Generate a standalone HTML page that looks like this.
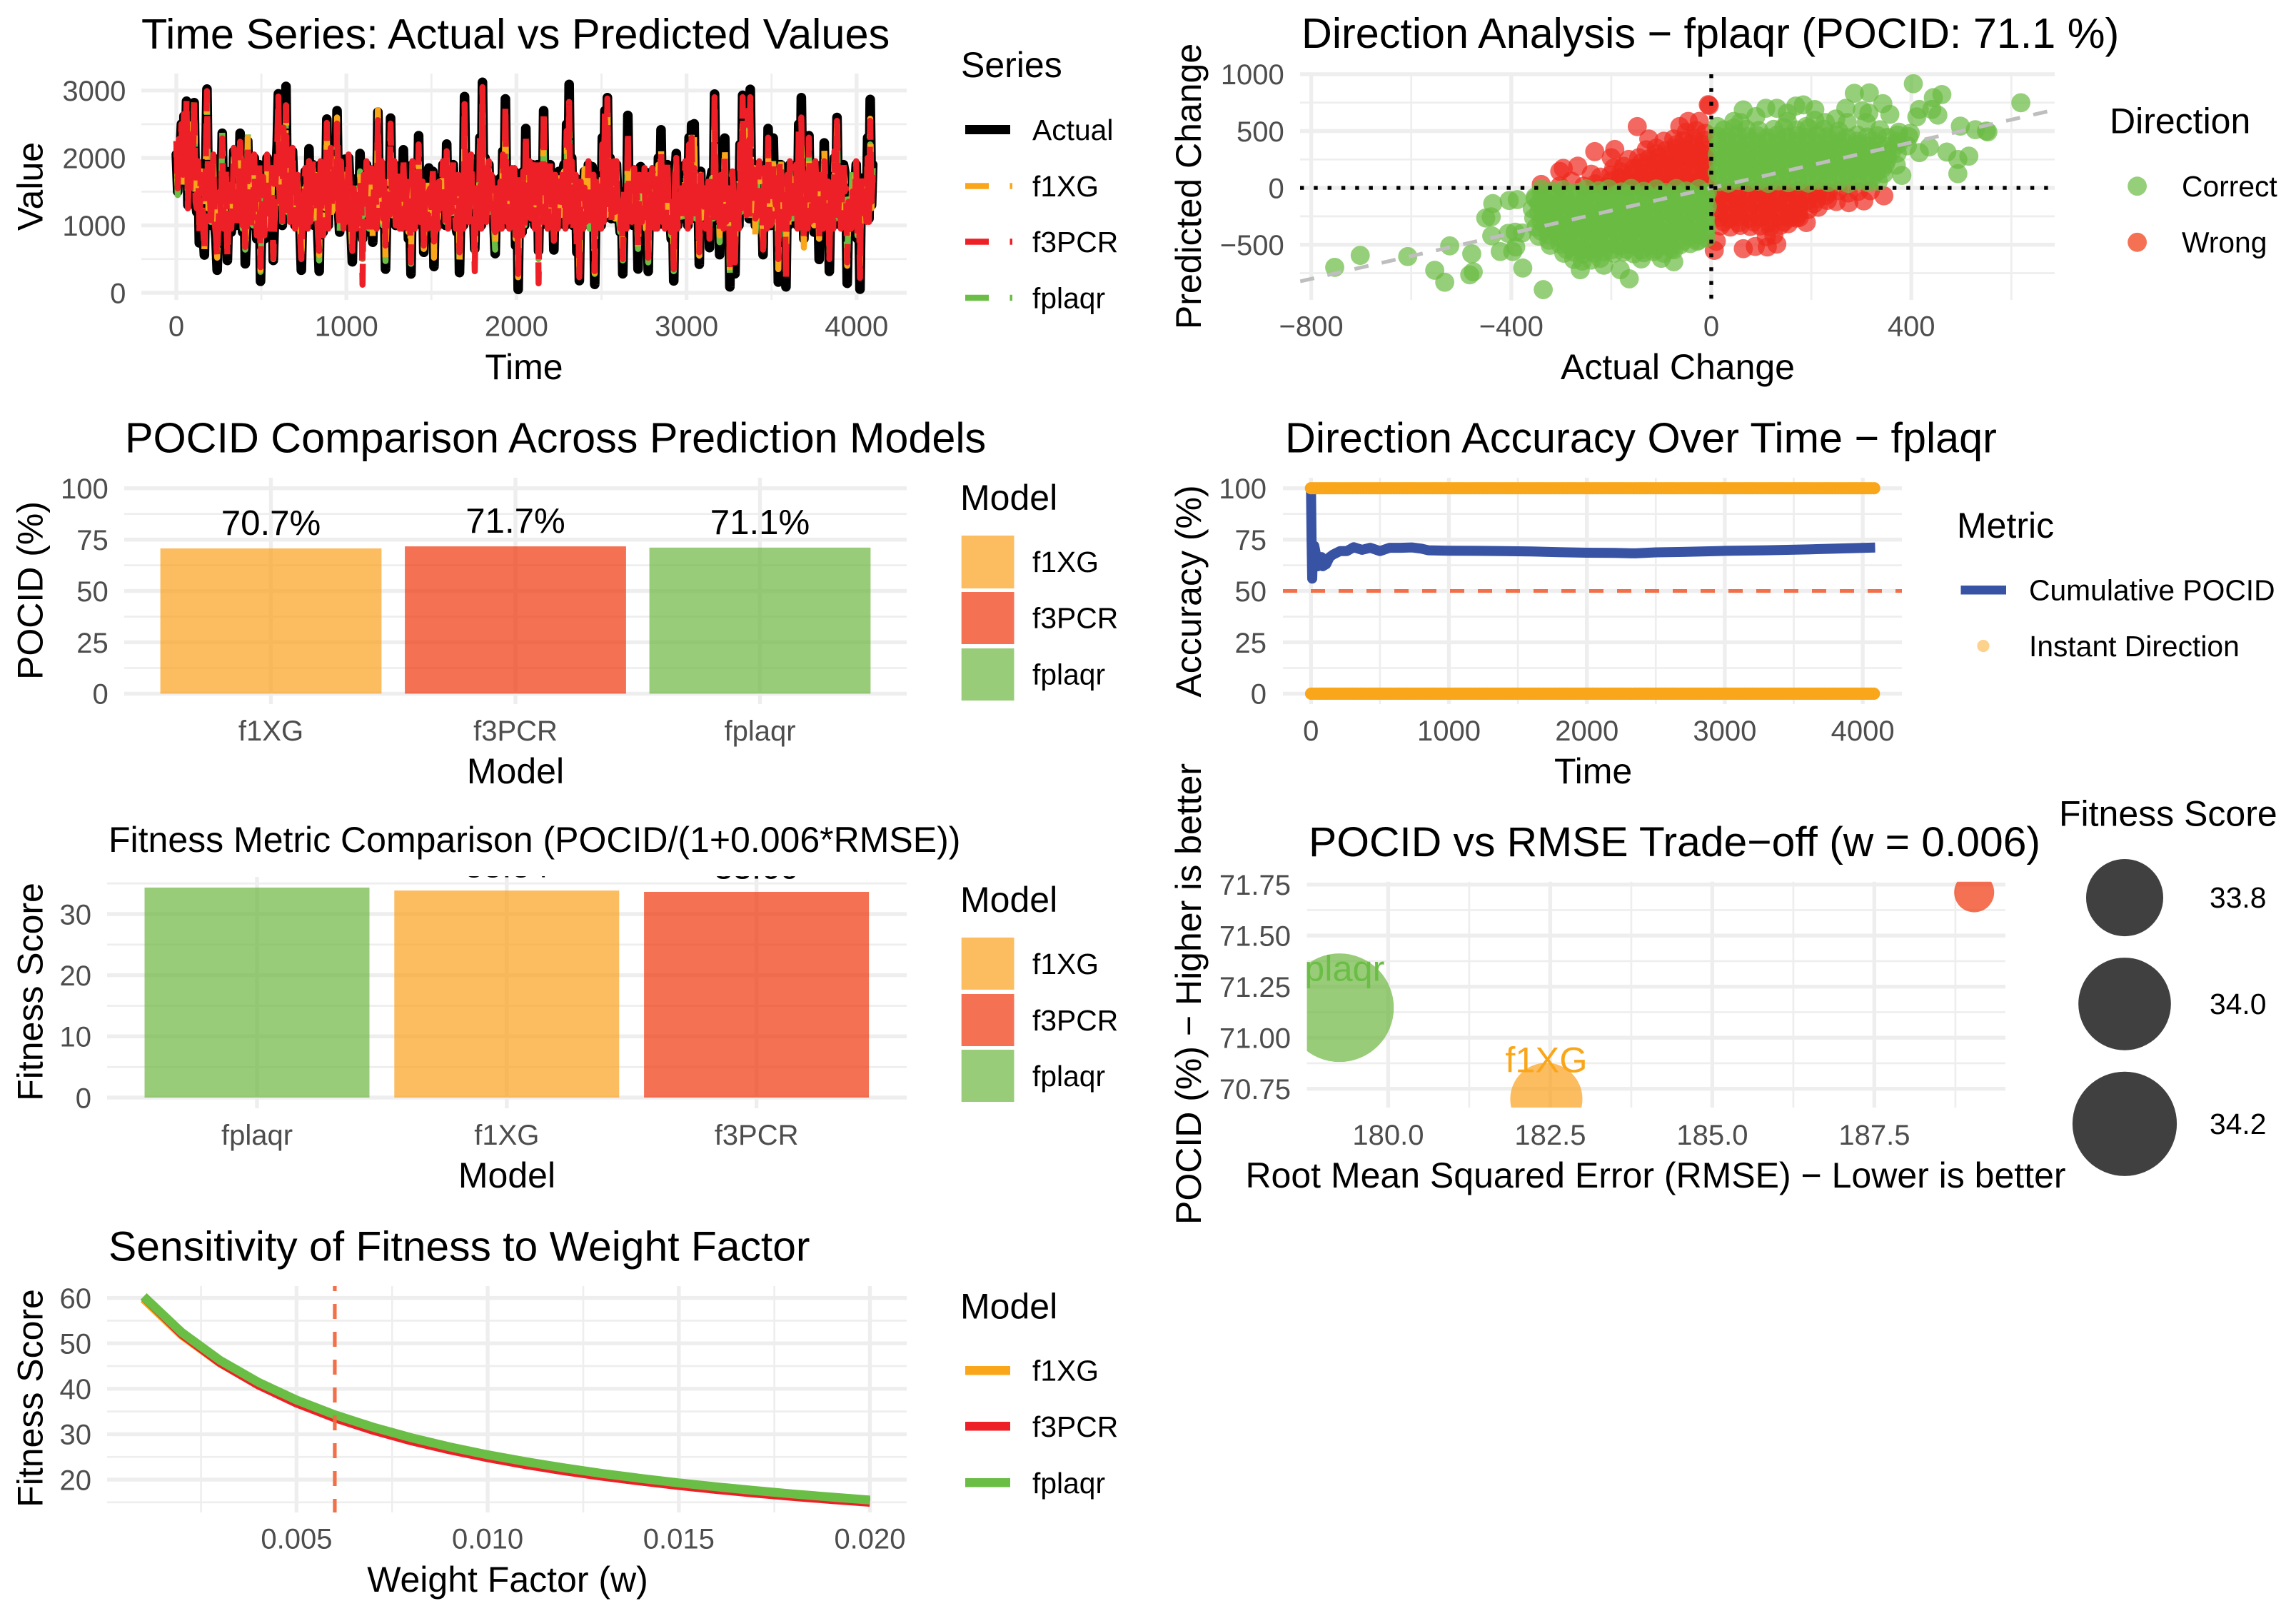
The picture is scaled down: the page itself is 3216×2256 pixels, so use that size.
<!DOCTYPE html>
<html lang="en">
<head>
<meta charset="utf-8">
<title>Forecast model comparison dashboard</title>
<style>
html,body{margin:0;padding:0;background:#fff;}
svg{display:block;font-family:"Liberation Sans",Arial,sans-serif;}
.title{font-size:59.3px;fill:#000;}
.atitle{font-size:50px;fill:#000;}
.ltitle{font-size:50px;fill:#000;}
.ltext{font-size:40.8px;fill:#000;}
.tick{font-size:40px;fill:#4D4D4D;}
</style>
</head>
<body>
<svg id="dashboard" xmlns="http://www.w3.org/2000/svg" width="3216" height="2256" viewBox="0 0 3216 2256">
<defs>
<clipPath id="clip-p1"><rect x="198" y="103" width="1072" height="317"/></clipPath>
<clipPath id="clip-p2"><rect x="1821" y="103" width="1057" height="317"/></clipPath>
<clipPath id="clip-p4"><rect x="1797" y="669" width="867" height="317"/></clipPath>
<clipPath id="clip-p5"><rect x="150" y="1227" width="1120" height="325"/></clipPath>
<clipPath id="clip-p6"><rect x="1830.6" y="1234.8" width="978.4" height="316.2"/></clipPath>
<clipPath id="clip-p7"><rect x="150" y="1801" width="1120" height="317"/></clipPath>
</defs>
<rect x="0" y="0" width="3216" height="2256" fill="#fff"/>

<!-- Panel 1: time series -->
<g id="p1">
<text class="title" style="font-size:59.5px" x="198" y="68">Time Series: Actual vs Predicted Values</text>
<text class="atitle" x="734" y="531" text-anchor="middle">Time</text>
<text class="atitle" x="59.5" y="261" text-anchor="middle" transform="rotate(-90 59.5 261)">Value</text>
<g id="p1-grid"></g>
<g id="p1-ticks"></g>
<g id="p1-marks" clip-path="url(#clip-p1)"></g>
<g>
<text class="ltitle" x="1346" y="108">Series</text>
<line x1="1352" x2="1415" y1="181.5" y2="181.5" stroke="#000" stroke-width="13"/>
<text class="ltext" x="1446" y="196">Actual</text>
<line x1="1352" x2="1418" y1="260.5" y2="260.5" stroke="#FAA61A" stroke-width="8.5" stroke-dasharray="33 29.5"/>
<text class="ltext" x="1446" y="275">f1XG</text>
<line x1="1352" x2="1418" y1="338.5" y2="338.5" stroke="#EE2027" stroke-width="8.5" stroke-dasharray="33 29.5"/>
<text class="ltext" x="1446" y="353">f3PCR</text>
<line x1="1352" x2="1418" y1="417" y2="417" stroke="#6ABD45" stroke-width="8.5" stroke-dasharray="33 29.5"/>
<text class="ltext" x="1446" y="431.5">fplaqr</text>
</g>
</g>

<!-- Panel 2: direction scatter -->
<g id="p2">
<text class="title" x="1823" y="67">Direction Analysis − fplaqr (POCID: 71.1 %)</text>
<text class="atitle" x="2350" y="531" text-anchor="middle">Actual Change</text>
<text class="atitle" x="1682" y="261" text-anchor="middle" transform="rotate(-90 1682 261)">Predicted Change</text>
<g id="p2-grid"></g>
<g id="p2-ticks"></g>
<g id="p2-marks" clip-path="url(#clip-p2)"></g>
<g>
<text class="ltitle" x="2955" y="186.4">Direction</text>
<circle cx="2993.6" cy="260.7" r="13.4" fill="#6ABA42" fill-opacity=".7"/>
<text class="ltext" x="3056" y="275">Correct</text>
<circle cx="2993.6" cy="339.3" r="13.4" fill="#F0340A" fill-opacity=".7"/>
<text class="ltext" x="3056" y="353.5">Wrong</text>
</g>
</g>

<!-- Panel 3: POCID bars -->
<g id="p3">
<text class="title" x="175" y="633.6">POCID Comparison Across Prediction Models</text>
<text class="atitle" x="722" y="1096.8" text-anchor="middle">Model</text>
<text class="atitle" x="59.5" y="827" text-anchor="middle" transform="rotate(-90 59.5 827)">POCID (%)</text>
<g id="p3-grid"></g>
<g id="p3-ticks"></g>
<g id="p3-marks"></g>
<g>
<text class="ltitle" x="1345" y="714">Model</text>
<rect x="1346.7" y="750" width="73.8" height="74" fill="#FBA01C" fill-opacity=".7"/>
<text class="ltext" x="1446" y="801">f1XG</text>
<rect x="1346.7" y="829" width="73.8" height="73" fill="#F0340A" fill-opacity=".7"/>
<text class="ltext" x="1446" y="879.5">f3PCR</text>
<rect x="1346.7" y="908" width="73.8" height="73" fill="#6CB63E" fill-opacity=".7"/>
<text class="ltext" x="1446" y="958.5">fplaqr</text>
</g>
</g>

<!-- Panel 4: accuracy -->
<g id="p4">
<text class="title" x="1800" y="633.6">Direction Accuracy Over Time − fplaqr</text>
<text class="atitle" x="2231.6" y="1096.8" text-anchor="middle">Time</text>
<text class="atitle" x="1682" y="828" text-anchor="middle" transform="rotate(-90 1682 828)">Accuracy (%)</text>
<g id="p4-grid"></g>
<g id="p4-ticks"></g>
<g id="p4-marks" clip-path="url(#clip-p4)"></g>
<g>
<text class="ltitle" x="2741" y="752.9">Metric</text>
<rect x="2746.5" y="820" width="63.5" height="12.5" fill="#3953A4"/>
<text class="ltext" x="2842" y="840.5">Cumulative POCID</text>
<circle cx="2778" cy="904.6" r="8.6" fill="#FAA61A" fill-opacity=".5"/>
<text class="ltext" x="2842" y="919">Instant Direction</text>
</g>
</g>

<!-- Panel 5: fitness bars -->
<g id="p5">
<text x="152" y="1193" font-size="50">Fitness Metric Comparison (POCID/(1+0.006*RMSE))</text>
<text class="atitle" x="710" y="1662.9" text-anchor="middle">Model</text>
<text class="atitle" x="59.5" y="1389" text-anchor="middle" transform="rotate(-90 59.5 1389)">Fitness Score</text>
<g id="p5-grid"></g>
<g id="p5-ticks"></g>
<g id="p5-marks" clip-path="url(#clip-p5)"></g>
<g>
<text class="ltitle" x="1345" y="1277">Model</text>
<rect x="1346.7" y="1312.9" width="73.8" height="73" fill="#FBA01C" fill-opacity=".7"/>
<text class="ltext" x="1446" y="1364">f1XG</text>
<rect x="1346.7" y="1392" width="73.8" height="73" fill="#F0340A" fill-opacity=".7"/>
<text class="ltext" x="1446" y="1443">f3PCR</text>
<rect x="1346.7" y="1470" width="73.8" height="73" fill="#6CB63E" fill-opacity=".7"/>
<text class="ltext" x="1446" y="1521">fplaqr</text>
</g>
</g>

<!-- Panel 6: trade-off -->
<g id="p6">
<text class="title" style="font-size:58.8px" x="1833" y="1198.8">POCID vs RMSE Trade−off (w = 0.006)</text>
<text class="atitle" x="2319" y="1662.8" text-anchor="middle">Root Mean Squared Error (RMSE) − Lower is better</text>
<text class="atitle" x="1682" y="1392" text-anchor="middle" transform="rotate(-90 1682 1392)">POCID (%) − Higher is better</text>
<g id="p6-grid"></g>
<g id="p6-ticks"></g>
<g id="p6-marks" clip-path="url(#clip-p6)"></g>
<g id="p6-legend">
<text class="ltitle" x="2884" y="1156.3">Fitness Score</text>
</g>
</g>

<!-- Panel 7: sensitivity -->
<g id="p7">
<text class="title" style="font-size:58.8px" x="152" y="1765.6">Sensitivity of Fitness to Weight Factor</text>
<text class="atitle" x="711" y="2229" text-anchor="middle">Weight Factor (w)</text>
<text class="atitle" x="59.5" y="1958" text-anchor="middle" transform="rotate(-90 59.5 1958)">Fitness Score</text>
<g id="p7-grid"></g>
<g id="p7-ticks"></g>
<g id="p7-marks" clip-path="url(#clip-p7)"></g>
<g>
<text class="ltitle" x="1345" y="1846.4">Model</text>
<rect x="1352" y="1913" width="63" height="12.5" fill="#FAA61A"/>
<text class="ltext" x="1446" y="1933.5">f1XG</text>
<rect x="1352" y="1991" width="63" height="12.5" fill="#EE2027"/>
<text class="ltext" x="1446" y="2012">f3PCR</text>
<rect x="1352" y="2070" width="63" height="12.5" fill="#6ABD45"/>
<text class="ltext" x="1446" y="2091">fplaqr</text>
</g>
</g>
</svg>

<script>
/* ---------- Time series data: peaks and troughs ---------- */
const tsTime = [
0,15,30,45,60,75,90,105,120,135,150,165,180,195,210,225,240,255,270,285,
300,315,330,345,360,375,390,405,420,435,450,465,480,495,510,525,540,555,570,585,
600,615,630,645,660,675,690,705,720,735,750,765,780,795,810,825,840,855,870,885,
900,915,930,945,960,975,990,1005,1020,1035,1050,1065,1080,1095,1110,1125,1140,1155,1170,1185,
1200,1215,1230,1245,1260,1275,1290,1305,1320,1335,1350,1365,1380,1395,1410,1425,1440,1455,1470,1485,
1500,1515,1530,1545,1560,1575,1590,1605,1620,1635,1650,1665,1680,1695,1710,1725,1740,1755,1770,1785,
1800,1815,1830,1845,1860,1875,1890,1905,1920,1935,1950,1965,1980,1995,2010,2025,2040,2055,2070,2085,
2100,2115,2130,2145,2160,2175,2190,2205,2220,2235,2250,2265,2280,2295,2310,2325,2340,2355,2370,2385,
2400,2415,2430,2445,2460,2475,2490,2505,2520,2535,2550,2565,2580,2595,2610,2625,2640,2655,2670,2685,
2700,2715,2730,2745,2760,2775,2790,2805,2820,2835,2850,2865,2880,2895,2910,2925,2940,2955,2970,2985,
3000,3015,3030,3045,3060,3075,3090,3105,3120,3135,3150,3165,3180,3195,3210,3225,3240,3255,3270,3285,
3300,3315,3330,3345,3360,3375,3390,3405,3420,3435,3450,3465,3480,3495,3510,3525,3540,3555,3570,3585,
3600,3615,3630,3645,3660,3675,3690,3705,3720,3735,3750,3765,3780,3795,3810,3825,3840,3855,3870,3885,
3900,3915,3930,3945,3960,3975,3990,4005,4020,4035,4050,4065,4080,4095];
const tsActual = [
2050,1980,2500,2620,2840,1980,2450,2820,1200,740,1900,560,3020,1900,1400,1050,335,1500,2365,1100,
480,1700,1200,1950,1400,2365,900,430,2250,1700,1000,1500,800,170,1765,1100,1600,900,480,1700,
2950,2000,2500,3060,1870,1750,1600,1050,1300,335,1200,1700,2135,1300,1000,1450,320,1200,1800,2575,
1700,1270,2000,2700,900,1600,1980,1300,1600,460,1300,1700,2065,800,1400,1620,1100,750,1800,2680,
1500,1000,350,1500,2590,1400,1000,1500,1700,2120,1200,800,280,1300,1800,2330,1300,600,1500,1850,
1100,390,1200,1700,1300,1800,2205,1400,1100,1500,900,300,1500,2910,1800,1300,1600,650,1500,2300,
3120,2000,1600,1200,1500,580,1200,1700,2100,2875,1700,1300,1000,700,50,1200,1800,2435,1500,1200,
1600,1000,620,1900,2700,1700,1500,1200,635,1400,1800,1300,1900,2500,3090,2000,1300,600,180,1200,
1800,1200,1000,1870,125,1300,1700,2300,2700,2894,2000,1700,1100,1400,900,282,1500,2630,1500,1000,
1400,353,1870,1200,900,318,1200,1300,1700,2000,2417,1700,1200,1400,800,176,2065,1500,1700,1250,
1800,2300,2488,2505,1400,423,1400,1600,1100,670,1800,2947,1700,565,1400,2294,1400,88,1500,282,
1500,2200,2929,2000,2700,3017,1600,1000,1700,1100,565,1600,2435,1000,2294,1300,159,1900,1100,88,
1000,1500,1300,1900,2500,2894,800,1600,2330,1200,900,1500,494,1400,2223,1400,318,1200,2000,2600,
1900,1500,1800,141,1300,1700,1500,800,53,1200,1500,2300,2866,1900];
const tsF1XG = [
2180,2100,2400,2600,2780,2120,2500,2850,1300,1000,1800,620,2950,1850,1500,1100,520,1400,2200,1150,
530,1500,1300,1850,1500,2260,950,700,2300,1650,1050,1300,900,340,1700,1150,1680,1000,520,1600,
2750,2100,2400,2780,1850,1700,1500,1000,1250,470,1250,1600,1950,1250,1150,1500,560,1250,1750,2400,
1650,1200,1900,2600,950,1500,1800,1250,1500,550,1250,1500,1800,900,1300,1680,1150,800,1700,2710,
1450,1050,480,1500,2400,1350,1000,1400,1500,1800,1250,900,520,1250,1650,2000,1300,650,1400,1700,
1100,520,1150,1600,1350,1700,2000,1350,1150,1450,950,420,1400,2500,1700,1250,1500,560,1400,2100,
2780,1900,1500,1250,1400,700,1250,1600,2000,2500,1650,1250,1050,800,230,1150,1700,2100,1450,1150,
1500,950,550,1800,2650,1600,1400,1150,800,1350,1700,1250,1800,2300,2600,1900,1250,700,250,1150,
1835,1150,1000,1700,300,1250,1500,2200,2600,2850,1900,1650,1100,1350,950,400,1450,2150,1450,1200,
1350,600,1650,1150,950,420,1150,1250,1600,1900,2200,1650,1100,1300,850,280,1900,1400,1600,1100,
1700,2200,2350,2400,1350,550,1350,1500,1150,1000,1700,2750,1600,850,1350,2200,1350,300,1300,600,
1400,2100,2600,1900,2500,2700,1500,811,1650,1100,560,1500,2100,1000,1900,1250,350,1900,1100,300,
1000,1600,1300,1800,2200,2300,670,1500,2000,1150,1000,1450,800,1350,2200,1400,700,1200,2000,2629,
1900,1500,1700,400,1250,1700,1600,900,400,1300,1700,2100,2580,1750];
const tsF3PCR = [
2250,2280,2500,2650,2860,2200,2450,2830,1250,900,1700,640,2990,1800,1450,1050,540,1500,2290,1200,
560,1600,1250,1900,1450,2240,1000,680,2200,1600,1100,1350,950,380,1720,1200,1640,950,510,1720,
2910,2000,2450,2780,1850,1650,1450,1000,1300,500,1150,1700,1950,1350,1200,1400,620,1150,1850,2520,
1700,1250,1950,2510,1000,1550,1600,1350,1550,620,1250,1450,1640,120,1350,1700,1200,900,1750,2560,
1500,1100,700,1450,2510,1450,1000,1450,1650,2000,1300,850,450,1350,1750,2200,1350,700,1350,1500,
1150,760,1250,1650,1400,1750,2100,1450,1200,1400,950,600,1450,2800,1750,1300,1500,320,1450,2300,
3050,1950,1550,1250,1450,900,1300,1650,2050,2780,1650,1300,1050,850,280,1250,1800,2350,1400,1100,
1500,1050,140,1900,2700,1650,1450,1200,770,1350,1650,1350,1850,2400,2830,1950,1300,650,230,1250,
1560,1250,1050,1650,320,1300,1400,2200,2700,2880,1950,1700,1200,1300,950,500,1500,2400,1400,1100,
1300,700,1600,1200,1000,520,1200,1200,1600,1800,2100,1600,1200,1250,900,350,2000,1450,1550,1200,
1750,2200,2300,1850,1450,600,1350,1550,1100,800,1650,2900,1650,900,1350,2000,1300,350,1800,450,
1450,2200,2900,2000,2700,2900,1550,1100,1500,1150,640,1550,2300,1000,1900,1300,500,1950,1050,200,
1100,1300,1300,1900,2400,2600,800,1550,2300,1200,1000,1500,800,1400,1950,1350,500,1300,2100,2550,
1800,1500,1500,450,1200,1500,1400,850,220,1250,1500,2000,2550,1750];
const tsFplaqr = [
2150,2050,2350,2550,2750,2100,2400,2760,1250,980,1750,590,2840,1800,1400,1100,470,1450,2380,1100,
540,1550,1250,1800,1400,2100,950,640,2400,1600,1000,1250,900,310,1650,1100,1550,950,500,1500,
2700,2000,2350,2650,1700,1600,1400,950,1250,430,1200,1550,1850,1250,1100,1400,480,1200,1700,2350,
1600,1200,1850,2450,850,1500,1750,1250,1500,600,1200,1550,1800,500,1300,1600,1100,900,1650,2400,
1400,1000,470,1400,2250,1350,1050,1350,1450,1700,1200,850,430,1250,1600,1900,1250,650,1400,1600,
1100,560,1200,1550,1300,1650,1900,1300,1100,1350,950,430,1350,2300,1650,1250,1400,520,1400,2200,
2900,1850,1500,1200,1350,640,1200,1600,1950,2550,1600,1250,1050,800,250,1150,1600,2000,1400,1150,
1450,1000,500,1700,2300,1550,1400,1100,780,1300,1600,1250,1700,2200,2500,1800,1250,700,280,1200,
1700,1150,950,1600,280,1250,1500,2100,2500,2700,1800,1600,1100,1300,900,480,1400,2100,1400,1100,
1300,650,1600,1100,950,450,1100,1300,1550,1800,2000,1550,1150,1300,850,320,1800,1400,1500,1000,
1600,2000,2000,2100,1300,500,1300,1500,1100,950,1700,2600,1600,750,1300,2050,1350,280,1400,550,
1350,2000,2500,1800,2600,2800,1450,850,1800,1100,600,1500,2000,1100,2000,1300,380,2047,1100,350,
1000,1400,1250,1700,2050,2150,750,1500,2050,1150,950,1400,770,1300,1900,1350,600,1250,1950,2500,
1750,1300,1600,350,1250,1800,1600,850,450,1300,1600,1900,2200,1850];

/* ---------- Time series data: mid-band samples between the peaks ---------- */
const tsMidTime = [
8,23,38,53,68,83,98,113,128,143,158,173,188,203,218,233,248,263,278,293,
308,323,338,353,368,383,398,413,428,443,458,473,488,503,518,533,548,563,578,593,
608,623,638,653,668,683,698,713,728,743,758,773,788,803,818,833,848,863,878,893,
908,923,938,953,968,983,998,1013,1028,1043,1058,1073,1088,1103,1118,1133,1148,1163,1178,1193,
1208,1223,1238,1253,1268,1283,1298,1313,1328,1343,1358,1373,1388,1403,1418,1433,1448,1463,1478,1493,
1508,1523,1538,1553,1568,1583,1598,1613,1628,1643,1658,1673,1688,1703,1718,1733,1748,1763,1778,1793,
1808,1823,1838,1853,1868,1883,1898,1913,1928,1943,1958,1973,1988,2003,2018,2033,2048,2063,2078,2093,
2108,2123,2138,2153,2168,2183,2198,2213,2228,2243,2258,2273,2288,2303,2318,2333,2348,2363,2378,2393,
2408,2423,2438,2453,2468,2483,2498,2513,2528,2543,2558,2573,2588,2603,2618,2633,2648,2663,2678,2693,
2708,2723,2738,2753,2768,2783,2798,2813,2828,2843,2858,2873,2888,2903,2918,2933,2948,2963,2978,2993,
3008,3023,3038,3053,3068,3083,3098,3113,3128,3143,3158,3173,3188,3203,3218,3233,3248,3263,3278,3293,
3308,3323,3338,3353,3368,3383,3398,3413,3428,3443,3458,3473,3488,3503,3518,3533,3548,3563,3578,3593,
3608,3623,3638,3653,3668,3683,3698,3713,3728,3743,3758,3773,3788,3803,3818,3833,3848,3863,3878,3893,
3908,3923,3938,3953,3968,3983,3998,4013,4028,4043,4058,4073,4088];
const tsMidActual = [
1500,2100,1700,2000,1300,1500,1900,1400,1900,1700,900,1900,1300,1000,2000,800,1100,1200,1000,1800,
1300,900,2100,1000,1300,1500,1900,900,1200,1000,2000,800,1900,1200,800,2000,1000,1800,1200,2200,
1300,1000,1500,1200,1100,2100,1000,1700,900,1300,1800,1000,1100,1900,1800,800,1900,900,1300,1000,
2100,1600,1300,1300,1900,1000,1100,2000,900,1500,1000,1000,1300,1700,1900,900,1800,1600,1000,1400,
1900,1600,1300,1200,1200,1900,1800,1000,1000,1200,1600,1200,1900,1000,1200,1100,1600,1400,1000,1500,
1800,1500,1000,1200,1900,1000,1000,1800,1900,1000,1700,1300,1000,1200,1100,2000,1200,1500,1000,1000,
1200,1100,1900,1700,1000,1500,1000,1000,1200,1100,1000,1800,1800,1700,1500,900,1000,1100,1900,1900,
1000,1900,1700,1100,1100,1000,1900,1500,1700,1000,1200,1800,1000,1100,1200,1000,1700,1500,1600,1000,
1100,1900,1000,1700,1600,1200,1000,1100,1200,1300,1100,1900,1900,1100,1400,1500,1000,1200,1100,1800,
1400,1700,1100,1800,1300,1700,1800,1000,1000,1200,1100,1000,1900,1100,1300,1700,1000,1200,1100,1900,
1000,1100,1200,1100,1500,1800,1200,1000,1600,1700,1100,1200,1500,1700,1000,1100,1500,1600,1300,1500,
1000,1200,1300,1200,1100,1300,1900,1200,1900,1400,1800,1000,1200,1100,1400,1500,1900,1000,1400,1700,
1900,1100,1800,1000,1100,1400,1700,1000,1100,1800,1900,1400,1700,1000,1100,1600,1500,1000,1100,1200,
1000,1900,1500,1300,1000,1100,1900,1400,1700,1100,1100,1100,1300];
const tsMidF1XG = [
1600,2000,1650,1950,1350,1600,1850,1450,1850,1650,1000,1850,1250,1100,1900,900,1200,1250,1100,1750,
1250,1000,2000,1100,1350,1450,1850,1000,1150,1100,1950,900,1800,1250,900,1900,1050,1750,1150,2100,
1250,1100,1450,1250,1150,2000,1100,1650,1000,1250,1750,1050,1150,1850,1750,900,1800,1000,1250,1100,
2000,1550,1250,1350,1850,1050,1150,1900,1000,1450,1100,1050,1250,1650,1850,1000,1750,1550,1100,1350,
1850,1550,1250,1250,1150,1850,1750,1100,1100,1150,1550,1250,1850,1100,1150,1150,1550,1350,1100,1450,
1750,1450,1100,1150,1850,1100,1050,1750,1850,1100,1650,1250,1100,1150,1150,1900,1250,1450,1050,1100,
1150,1150,1850,1650,1050,1450,1100,1050,1150,1150,1050,1750,1750,1650,1450,1000,1050,1150,1850,1850,
1050,1850,1650,1150,1150,1050,1850,1450,1650,1100,1150,1750,1050,1150,1150,1100,1650,1450,1550,1100,
1150,1850,1050,1650,1550,1150,1100,1150,1150,1250,1150,1850,1850,1150,1350,1450,1100,1150,1150,1750,
1350,1650,1150,1750,1250,1650,1750,1100,1050,1150,1150,1050,1850,1150,1250,1650,1100,1150,1150,1850,
1100,1150,1150,1150,1450,1750,1150,1100,1550,1650,1150,1150,1450,1650,1100,1150,1450,1550,1250,1450,
1100,1150,1250,1250,1150,1250,1850,1250,1850,1350,1750,1100,1150,1150,1350,1450,1850,1100,1350,1650,
1850,1150,1750,1100,1150,1350,1650,1100,1150,1750,1850,1350,1650,1100,1150,1550,1450,1100,1150,1250,
1100,1850,1450,1250,1100,1150,1850,1350,1650,1150,1150,1150,1250];
const tsMidF3PCR = [
1550,2050,1750,2050,1250,1550,1950,1350,1950,1750,950,1950,1350,950,2050,850,1050,1150,950,1850,
1350,950,2150,950,1250,1550,1950,850,1250,950,2050,850,1950,1150,850,2050,950,1850,1250,2150,
1350,950,1550,1150,1050,2150,950,1750,850,1350,1850,950,1050,1950,1850,850,1950,850,1350,950,
2150,1650,1350,1250,1950,950,1050,2050,850,1550,950,950,1350,1750,1950,850,1850,1650,950,1450,
1950,1650,1350,1150,1250,1950,1850,950,950,1250,1650,1150,1950,950,1250,1050,1650,1450,950,1550,
1850,1550,950,1250,1950,950,950,1850,1950,950,1750,1350,950,1250,1050,2050,1150,1550,950,950,
1250,1050,1950,1750,950,1550,950,950,1250,1050,950,1850,1850,1750,1550,850,950,1050,1950,1950,
950,1950,1750,1050,1050,950,1950,1550,1750,950,1250,1850,950,1050,1250,950,1750,1550,1650,950,
1050,1950,950,1750,1650,1250,950,1050,1250,1350,1050,1950,1950,1050,1450,1550,950,1250,1050,1850,
1450,1750,1050,1850,1350,1750,1850,950,950,1250,1050,950,1950,1050,1350,1750,950,1250,1050,1950,
950,1050,1250,1050,1550,1850,1250,950,1650,1750,1050,1250,1550,1750,950,1050,1550,1650,1350,1550,
950,1250,1350,1150,1050,1350,1950,1150,1950,1450,1850,950,1250,1050,1450,1550,1950,950,1450,1750,
1950,1050,1850,950,1050,1450,1750,950,1050,1850,1950,1450,1750,950,1050,1650,1550,950,1050,1150,
950,1950,1550,1350,950,1050,1950,1450,1750,1050,1050,1050,1350];
const tsMidFplaqr = [
1450,2000,1600,1900,1300,1500,1800,1400,1800,1600,1000,1800,1300,1050,1850,950,1150,1300,1050,1700,
1300,1050,1950,1050,1300,1400,1800,950,1200,1050,1900,950,1750,1200,950,1850,1000,1700,1200,2050,
1300,1050,1400,1200,1100,1950,1050,1600,950,1300,1700,1000,1100,1800,1700,950,1750,950,1300,1050,
1950,1500,1300,1300,1800,1000,1100,1850,950,1400,1050,1000,1300,1600,1800,950,1700,1500,1050,1300,
1800,1500,1300,1200,1200,1800,1700,1050,1050,1200,1500,1200,1800,1050,1200,1100,1500,1300,1050,1400,
1700,1400,1050,1200,1800,1050,1000,1700,1800,1050,1600,1300,1050,1200,1100,1850,1200,1400,1000,1050,
1200,1100,1800,1600,1000,1400,1050,1000,1200,1100,1000,1700,1700,1600,1400,950,1000,1100,1800,1800,
1000,1800,1600,1100,1100,1000,1800,1400,1600,1050,1200,1700,1000,1100,1200,1050,1600,1400,1500,1050,
1100,1800,1000,1600,1500,1200,1050,1100,1200,1300,1100,1800,1800,1100,1300,1400,1050,1200,1100,1700,
1300,1600,1100,1700,1300,1600,1700,1050,1000,1200,1100,1000,1800,1100,1300,1600,1050,1200,1100,1800,
1050,1100,1200,1100,1400,1700,1200,1050,1500,1600,1100,1200,1400,1600,1050,1100,1400,1500,1300,1400,
1050,1200,1300,1200,1100,1300,1800,1200,1800,1300,1700,1050,1200,1100,1300,1400,1800,1050,1300,1600,
1800,1100,1700,1050,1100,1300,1600,1050,1100,1700,1800,1300,1600,1050,1100,1500,1400,1050,1100,1200,
1050,1800,1400,1300,1050,1100,1800,1300,1600,1100,1100,1100,1300];
const tsXTicks = [0,1000,2000,3000,4000];
const tsXMinor = [500,1500,2500,3500];
const tsYTicks = [0,1000,2000,3000];
const tsYMinor = [500,1500,2500];

/* ---------- Direction scatter data: [actual change, predicted change] ---------- */
const wrongPoints = [
[-255,15],[-232,35],[-212,10],[-190,30],[-170,15],[-150,35],[-130,10],[-110,30],[-90,15],[-70,35],[-50,10],[-30,30],[-12,15],
[-222,95],[-202,110],[-182,90],[-162,105],[-142,95],[-122,110],[-102,90],[-82,105],[-62,95],[-42,110],[-22,90],[-8,105],
[-195,175],[-175,190],[-155,170],[-135,185],[-115,175],[-95,190],[-75,170],[-55,185],[-35,175],[-15,190],
[-165,250],[-145,265],[-125,255],[-105,270],[-85,250],[-65,265],[-45,255],[-25,270],[-8,250],
[-130,335],[-110,350],[-90,330],[-70,345],[-50,335],[-30,350],[-12,330],
[-95,410],[-75,430],[-55,415],[-35,435],[-15,420],
[-50,490],[-30,505],[-12,480],
[-200,60],[-170,65],[-140,60],[-110,65],[-80,60],[-50,65],[-20,60],
[-180,140],[-150,145],[-120,140],[-90,145],[-60,140],[-30,145],[-10,140],
[-140,220],[-110,225],[-80,220],[-50,225],[-20,220],
[-110,300],[-80,305],[-50,300],[-20,305],
[-70,380],[-40,385],[-15,380],
[-148,539],[-6,732],[-4,725],[-233,319],[-193,338],[-267,191],[-296,172],[-303,145],[-340,30],[-303,16],[-125,430],[-63,540],[-24,585],[-46,585],[-200,265],[-240,120],[-280,60],
[14,-25],[34,-40],[54,-20],[74,-35],[94,-25],[114,-40],[134,-20],[154,-35],[174,-25],[194,-40],[214,-25],[234,-35],[254,-25],[274,-45],[294,-30],[318,-25],[345,-70],
[12,-100],[32,-110],[52,-95],[72,-105],[92,-100],[112,-110],[132,-95],[152,-105],[172,-100],[192,-110],[212,-95],[232,-110],[250,-120],[275,-130],[305,-115],
[14,-180],[34,-190],[54,-175],[74,-185],[94,-180],[114,-190],[134,-175],[154,-185],[174,-180],[194,-190],[214,-170],
[16,-260],[36,-270],[56,-255],[76,-265],[96,-260],[116,-270],[136,-255],[156,-265],[176,-260],
[18,-335],[38,-345],[58,-330],[78,-340],[98,-335],[118,-345],[138,-330],[154,-315],[190,-305],[170,-265],
[20,-60],[50,-65],[80,-60],[110,-65],[140,-60],[170,-65],[200,-60],[230,-65],
[25,-140],[55,-145],[85,-140],[115,-145],[145,-140],[175,-145],[205,-140],
[25,-220],[55,-225],[85,-220],[115,-225],[145,-220],[175,-225],
[25,-300],[55,-305],[85,-300],[115,-305],[145,-300],
[64,-535],[88,-515],[112,-520],[131,-495],[6,-550],[10,-470],[110,-430],[125,-415]
];
const correctPoints = [
[-340,-8],[-318,-32],[-296,-15],[-268,-40],[-250,-8],[-225,-25],[-205,-10],[-180,-35],[-160,-5],[-135,-30],[-110,-10],[-92,-40],[-70,-6],[-50,-28],[-25,-8],[-8,-40],
[-352,-95],[-332,-110],[-312,-100],[-292,-90],[-272,-105],[-252,-100],[-232,-95],[-212,-110],[-192,-100],[-172,-90],[-152,-105],[-132,-100],[-112,-95],[-92,-110],[-72,-100],[-52,-90],[-32,-105],[-12,-100],
[-358,-185],[-338,-175],[-318,-190],[-298,-180],[-278,-170],[-258,-185],[-238,-175],[-218,-190],[-198,-180],[-178,-170],[-158,-185],[-138,-175],[-118,-190],[-98,-180],[-78,-170],[-58,-185],[-38,-175],[-18,-190],[-8,-165],
[-355,-265],[-335,-255],[-315,-270],[-295,-260],[-275,-250],[-255,-265],[-235,-255],[-215,-270],[-195,-260],[-175,-250],[-155,-265],[-135,-255],[-115,-270],[-95,-260],[-75,-250],[-55,-265],[-35,-255],[-12,-270],
[-350,-345],[-330,-335],[-310,-350],[-290,-340],[-270,-330],[-250,-345],[-230,-335],[-210,-350],[-190,-340],[-170,-330],[-150,-345],[-130,-335],[-110,-350],[-90,-340],[-70,-330],[-50,-345],[-30,-335],[-10,-350],
[-345,-425],[-325,-415],[-305,-430],[-285,-420],[-265,-410],[-245,-425],[-225,-415],[-205,-430],[-185,-420],[-165,-410],[-145,-425],[-125,-415],[-105,-430],[-85,-420],[-65,-410],[-45,-425],[-25,-415],[-10,-440],
[-322,-505],[-302,-495],[-282,-510],[-262,-500],[-242,-490],[-222,-505],[-202,-495],[-182,-510],[-162,-500],[-142,-490],[-122,-505],[-102,-495],[-82,-510],[-62,-500],[-42,-490],[-28,-470],
[-295,-575],[-275,-565],[-255,-580],[-235,-570],[-215,-560],[-195,-575],[-175,-565],[-155,-580],[-135,-570],[-115,-560],[-95,-575],[-75,-545],
[-275,-630],[-258,-645],[-240,-635],[-222,-620],[-262,-720],
[-340,-55],[-310,-60],[-280,-55],[-250,-60],[-220,-55],[-190,-60],[-160,-55],[-130,-60],[-100,-55],[-70,-60],[-40,-55],[-12,-60],
[-345,-140],[-315,-145],[-285,-140],[-255,-145],[-225,-140],[-195,-145],[-165,-140],[-135,-145],[-105,-140],[-75,-145],[-45,-140],[-15,-145],
[-345,-220],[-315,-225],[-285,-220],[-255,-225],[-225,-220],[-195,-225],[-165,-220],[-135,-225],[-105,-220],[-75,-225],[-45,-220],[-15,-225],
[-340,-300],[-310,-305],[-280,-300],[-250,-305],[-220,-300],[-190,-305],[-160,-300],[-130,-305],[-100,-300],[-70,-305],[-40,-300],[-12,-305],
[-340,-380],[-310,-385],[-280,-380],[-250,-385],[-220,-380],[-190,-385],[-160,-380],[-130,-385],[-100,-380],[-70,-385],[-40,-380],[-12,-385],
[-325,-460],[-295,-465],[-265,-460],[-235,-465],[-205,-460],[-175,-465],[-145,-460],[-115,-465],[-85,-460],[-55,-465],[-25,-460],
[-290,-540],[-260,-545],[-230,-540],[-200,-545],[-170,-540],[-140,-545],[-110,-540],[-80,-535],
[-753,-699],[-702,-594],[-607,-604],[-553,-725],[-523,-510],[-533,-830],[-479,-580],[-483,-765],[-476,-738],[-377,-705],[-336,-895],[-437,-138],[-404,-111],[-388,-103],[-451,-265],[-439,-422],[-406,-400],[-392,-390],[-378,-397],[-422,-560],[-397,-560],[-391,-520],[-352,-80],[-440,-255],[-182,-720],[-164,-800],[-75,-650],[-215,-680],[-140,-625],[-100,-620],
[14,55],[34,42],[54,65],[74,48],[94,60],[114,40],[134,62],[154,46],[174,58],[194,42],[214,66],[234,48],[254,60],[274,40],[294,62],[314,46],[334,58],
[12,135],[32,125],[52,145],[72,130],[92,140],[112,122],[132,145],[152,128],[172,140],[192,125],[212,145],[232,130],[252,140],[272,122],[292,145],[312,128],[332,140],[345,125],
[14,215],[34,205],[54,225],[74,210],[94,220],[114,202],[134,225],[154,208],[174,220],[194,205],[214,225],[234,210],[254,220],[274,202],[294,225],[314,208],[334,220],[348,205],
[12,295],[32,285],[52,305],[72,290],[92,300],[112,282],[132,305],[152,288],[172,300],[192,285],[212,305],[232,290],[252,300],[272,282],[292,305],[312,288],[332,300],[352,285],[372,305],
[14,375],[34,365],[54,385],[74,370],[94,380],[114,362],[134,385],[154,368],[174,380],[194,365],[214,385],[234,370],[254,380],[274,362],[294,385],[314,368],[334,380],[354,365],[374,385],[392,370],
[12,455],[32,445],[52,465],[72,450],[92,460],[112,442],[132,465],[152,448],[172,460],[192,445],[212,465],[232,450],[252,460],[272,442],[292,465],[312,448],[332,460],[352,445],[372,465],[395,450],
[25,510],[45,525],[70,515],[95,505],[125,515],[145,530],[170,510],[195,525],[225,515],[255,500],
[22,95],[52,90],[82,95],[112,90],[142,95],[172,90],[202,95],[232,90],[262,95],[292,90],[322,95],
[22,175],[52,170],[82,175],[112,170],[142,175],[172,170],[202,175],[232,170],[262,175],[292,170],[322,175],[342,170],
[22,255],[52,250],[82,255],[112,250],[142,255],[172,250],[202,255],[232,250],[262,255],[292,250],[322,255],[352,250],
[22,335],[52,330],[82,335],[112,330],[142,335],[172,330],[202,335],[232,330],[262,335],[292,330],[322,335],[362,330],
[22,415],[52,410],[82,415],[112,410],[142,415],[172,410],[202,415],[232,410],[262,415],[292,410],[322,415],[372,410],
[404,916],[461,821],[444,794],[619,749],[286,832],[316,836],[343,741],[357,647],[269,700],[302,679],[315,658],[249,606],[64,686],[109,700],[131,700],[169,720],[184,730],[207,689],[152,658],[89,627],[207,595],[416,690],[441,690],[453,640],[411,625],[498,543],[528,512],[550,500],[553,492],[471,315],[515,279],[493,250],[493,125],[436,360],[416,310],[381,110],[370,200],[12,540],[45,585],[58,575],[310,575],[337,512],[375,490],[398,480],[272,575],[228,575],[190,540],[152,585]
];
const scatterXTicks = [-800,-400,0,400];
const scatterXMinor = [-600,-200,200,600];
const scatterYTicks = [-500,0,500,1000];
const scatterYMinor = [-750,-250,250,750];
const identitySlope = 1;
const identityIntercept = 0;
const referenceLineValue = 0;

/* ---------- POCID bars ---------- */
const pocidModels = ['f1XG','f3PCR','fplaqr'];
const pocidValues = [70.7,71.7,71.1];
const pocidPrinted = ['70.7%','71.7%','71.1%'];
const pocidYTicks = [0,25,50,75,100];
const pocidYMinor = [12.5,37.5,62.5,87.5];

/* ---------- Accuracy over time ---------- */
const accTime = [0,4,9,15,24,35,50,60,75,85,110,135,160,210,260,310,370,430,500,570,650,730,800,850,1000,1200,1400,1600,1800,2000,2200,2350,2500,2700,3000,3300,3600,3900,4090];
const accCumulative = [100,75,56,71,72,68,62,62.5,66.5,62,63,66.5,67.7,69.4,69.4,71.3,70,71,69.4,71,71,71.2,70.6,69.8,69.6,69.5,69.4,69.2,68.9,68.6,68.5,68.3,68.8,69,69.5,69.8,70.2,70.8,71.1];
const instantHitTimes = [0,20,40,60,80,100,120,140,160,180,200,220,240,260,280,300,320,340,360,380,400,420,440,460,480,500,520,540,560,580,600,620,640,660,680,700,720,740,760,780,800,820,840,860,880,900,920,940,960,980,1000,1020,1040,1060,1080,1100,1120,1140,1160,1180,1200,1220,1240,1260,1280,1300,1320,1340,1360,1380,1400,1420,1440,1460,1480,1500,1520,1540,1560,1580,1600,1620,1640,1660,1680,1700,1720,1740,1760,1780,1800,1820,1840,1860,1880,1900,1920,1940,1960,1980,2000,2020,2040,2060,2080,2100,2120,2140,2160,2180,2200,2220,2240,2260,2280,2300,2320,2340,2360,2380,2400,2420,2440,2460,2480,2500,2520,2540,2560,2580,2600,2620,2640,2660,2680,2700,2720,2740,2760,2780,2800,2820,2840,2860,2880,2900,2920,2940,2960,2980,3000,3020,3040,3060,3080,3100,3120,3140,3160,3180,3200,3220,3240,3260,3280,3300,3320,3340,3360,3380,3400,3420,3440,3460,3480,3500,3520,3540,3560,3580,3600,3620,3640,3660,3680,3700,3720,3740,3760,3780,3800,3820,3840,3860,3880,3900,3920,3940,3960,3980,4000,4020,4040,4060,4083];
const instantMissTimes = [1,21,41,61,81,101,121,141,161,181,201,221,241,261,281,301,321,341,361,381,401,421,441,461,481,501,521,541,561,581,601,621,641,661,681,701,721,741,761,781,801,821,841,861,881,901,921,941,961,981,1001,1021,1041,1061,1081,1101,1121,1141,1161,1181,1201,1221,1241,1261,1281,1301,1321,1341,1361,1381,1401,1421,1441,1461,1481,1501,1521,1541,1561,1581,1601,1621,1641,1661,1681,1701,1721,1741,1761,1781,1801,1821,1841,1861,1881,1901,1921,1941,1961,1981,2001,2021,2041,2061,2081,2101,2121,2141,2161,2181,2201,2221,2241,2261,2281,2301,2321,2341,2361,2381,2401,2421,2441,2461,2481,2501,2521,2541,2561,2581,2601,2621,2641,2661,2681,2701,2721,2741,2761,2781,2801,2821,2841,2861,2881,2901,2921,2941,2961,2981,3001,3021,3041,3061,3081,3101,3121,3141,3161,3181,3201,3221,3241,3261,3281,3301,3321,3341,3361,3381,3401,3421,3441,3461,3481,3501,3521,3541,3561,3581,3601,3621,3641,3661,3681,3701,3721,3741,3761,3781,3801,3821,3841,3861,3881,3901,3921,3941,3961,3981,4001,4021,4041,4061,4081];
const instantHitValue = 100;
const instantMissValue = 0;
const accThreshold = 50;
const accXTicks = [0,1000,2000,3000,4000];
const accXMinor = [500,1500,2500,3500];
const accYTicks = [0,25,50,75,100];
const accYMinor = [12.5,37.5,62.5,87.5];

/* ---------- Fitness bars ---------- */
const fitnessModels = ['fplaqr','f1XG','f3PCR'];
const fitnessValues = [34.33,33.84,33.62];
const fitnessPrinted = ['34.33','33.84','33.60'];
const fitnessYTicks = [0,10,20,30];
const fitnessYMinor = [5,15,25,35];

/* ---------- Trade-off bubbles ---------- */
const tradeModels = ['fplaqr','f1XG','f3PCR'];
const tradeRmse = [179.25,182.44,189.04];
const tradePocid = [71.147,70.70,71.712];
const tradeFitness = [34.28,33.75,33.60];
const tradeXTicks = ['180.0','182.5','185.0','187.5'];
const tradeXMinor = [181.25,183.75,186.25,188.75];
const tradeYTicks = ['70.75','71.00','71.25','71.50','71.75'];
const tradeYMinor = [70.875,71.125,71.375,71.625];
const sizeLegendValues = [33.8,34.0,34.2];

/* ---------- Sensitivity ---------- */
const weightValues = [0.001,0.002,0.003,0.004,0.005,0.006,0.007,0.008,0.009,0.010,0.011,0.012,0.013,0.014,0.015,0.016,0.017,0.018,0.019,0.020];
const sensF1XG = [59.79,51.79,45.69,40.87,36.97,33.75,31.04,28.74,26.75,25.03,23.51,22.16,20.96,19.89,18.92,18.04,17.23,16.50,15.83,15.20];
const sensF3PCR = [60.30,52.03,45.76,40.83,36.86,33.60,30.87,28.54,26.55,24.81,23.29,21.94,20.74,19.67,18.70,17.82,17.02,16.29,15.62,15.00];
const sensFplaqr = [60.33,52.37,46.26,41.43,37.52,34.28,31.55,29.23,27.22,25.47,23.94,22.58,21.36,20.27,19.28,18.39,17.58,16.83,16.15,15.51];
const sensWeightMarker = 0.006;
const sensXTicks = ['0.005','0.010','0.015','0.020'];
const sensXMinor = [0.0025,0.0075,0.0125,0.0175];
const sensYTicks = [20,30,40,50,60];
const sensYMinor = [15,25,35,45,55];

/* ---------- Shared helpers ---------- */
const NS = 'http://www.w3.org/2000/svg';
const GRID = '#EEEEEE';
const ORANGE = '#FAA61A', RED = '#EE2027', GREEN = '#6ABD45', SOFTRED = '#F0340A';

function mk(tag, attrs, parent) {
  const el = document.createElementNS(NS, tag);
  for (const k in attrs) el.setAttribute(k, attrs[k]);
  parent.appendChild(el);
  return el;
}
function byId(id) { return document.getElementById(id); }

function drawGrid(id, box, xf, yf, xMajor, xMinor, yMajor, yMinor) {
  const g = byId(id);
  yMinor.forEach(v => {
    const el = mk('line', {x1: box.l, x2: box.r, y1: yf(v), y2: yf(v), stroke: GRID, 'stroke-width': 2.7}, g);
    
    
  });
  xMinor.forEach(v => {
    const el = mk('line', {x1: xf(v), x2: xf(v), y1: box.t, y2: box.b, stroke: GRID, 'stroke-width': 2.7}, g);
    
    
  });
  yMajor.forEach(v => {
    const el = mk('line', {x1: box.l, x2: box.r, y1: yf(+v), y2: yf(+v), stroke: GRID, 'stroke-width': 5.4}, g);
    
    
  });
  xMajor.forEach(v => {
    const el = mk('line', {x1: xf(v), x2: xf(v), y1: box.t, y2: box.b, stroke: GRID, 'stroke-width': 5.4}, g);
    
    
  });
}
function fmtMinus(v) { return String(v).replace('-', '\u2212'); }
function xTickLabels(id, values, xf, baseline) {
  const g = byId(id);
  values.forEach(v => {
    const el = mk('text', {class: 'tick', x: xf(v), y: baseline, 'text-anchor': 'middle'}, g);
    
    
    el.textContent = fmtMinus(v);
  });
}
function catTickLabels(id, names, xf, baseline) {
  const g = byId(id);
  names.forEach((n, i) => {
    const el = mk('text', {class: 'tick', x: xf(i), y: baseline, 'text-anchor': 'middle'}, g);
    
    
    el.textContent = n;
  });
}
function yTickLabels(id, values, yf, right) {
  const g = byId(id);
  values.forEach(v => {
    const el = mk('text', {class: 'tick', x: right, y: yf(+v) + 14.3, 'text-anchor': 'end'}, g);
    
    
    el.textContent = fmtMinus(v);
  });
}
function pts(xs, ys, xf, yf) {
  const out = [];
  xs.forEach((x, i) => {
    if (Number.isFinite(ys[i])) out.push(xf(x).toFixed(1) + ',' + yf(ys[i]).toFixed(1));
  });
  return out.join(' ');
}
function mergedPts(t1, v1, t2, v2, xf, yf) {
  const rows = [];
  t1.forEach((t, i) => { if (Number.isFinite(v1[i])) rows.push([t, v1[i]]); });
  t2.forEach((t, i) => { if (Number.isFinite(v2[i])) rows.push([t, v2[i]]); });
  rows.sort((a, b) => a[0] - b[0]);
  return rows.map(r => xf(r[0]).toFixed(1) + ',' + yf(r[1]).toFixed(1)).join(' ');
}
const colorOf = {f1XG: '#FBA01C', f3PCR: SOFTRED, fplaqr: '#6CB63E'};

/* ---------- Panel 1 ---------- */
(function () {
  const box = {l: 198, r: 1270, t: 103, b: 420};
  const x = t => 247 + t * 0.2382;
  const y = v => 410 - v * 0.09444;
  drawGrid('p1-grid', box, x, y, tsXTicks, tsXMinor, tsYTicks, tsYMinor);
  xTickLabels('p1-ticks', tsXTicks, x, 470.7);
  yTickLabels('p1-ticks', tsYTicks, y, 176.4);
  const g = byId('p1-marks');
  const actual = mk('polyline', {points: mergedPts(tsTime, tsActual, tsMidTime, tsMidActual, x, y), fill: 'none', stroke: '#000', 'stroke-width': 13.5, 'stroke-linejoin': 'round', 'stroke-linecap': 'round'}, g);
  
  
  const green = mk('polyline', {points: mergedPts(tsTime, tsFplaqr, tsMidTime, tsMidFplaqr, x, y), fill: 'none', stroke: GREEN, 'stroke-width': 8.5, 'stroke-linejoin': 'round', 'stroke-dasharray': '33 30', 'stroke-dashoffset': 20}, g);
  
  
  const orange = mk('polyline', {points: mergedPts(tsTime, tsF1XG, tsMidTime, tsMidF1XG, x, y), fill: 'none', stroke: ORANGE, 'stroke-width': 8.5, 'stroke-linejoin': 'round', 'stroke-dasharray': '33 30', 'stroke-dashoffset': 33}, g);
  
  
  const red = mk('polyline', {points: mergedPts(tsTime, tsF3PCR, tsMidTime, tsMidF3PCR, x, y), fill: 'none', stroke: RED, 'stroke-width': 8.5, 'stroke-linejoin': 'round', 'stroke-dasharray': '46 17'}, g);
  
  
})();

/* ---------- Panel 2 ---------- */
(function () {
  const box = {l: 1821, r: 2878, t: 103, b: 420};
  const x = v => 2397 + v * 0.7005;
  const y = v => 263.1 - v * 0.1592;
  drawGrid('p2-grid', box, x, y, scatterXTicks, scatterXMinor, scatterYTicks, scatterYMinor);
  xTickLabels('p2-ticks', scatterXTicks, x, 470.7);
  yTickLabels('p2-ticks', scatterYTicks, y, 1798.8);
  const g = byId('p2-marks');
  wrongPoints.forEach(p => {
    const el = mk('circle', {cx: x(p[0]), cy: y(p[1]), r: 13.4, fill: '#EE2A1E', 'fill-opacity': 0.7}, g);
    
    
  });
  correctPoints.forEach(p => {
    const el = mk('circle', {cx: x(p[0]), cy: y(p[1]), r: 13.4, fill: '#6ABA42', 'fill-opacity': 0.7}, g);
    
    
  });
  const xa = -822, xb = 690;
  const ident = mk('line', {x1: x(xa), y1: y(identitySlope * xa + identityIntercept), x2: x(xb), y2: y(identitySlope * xb + identityIntercept), stroke: '#BEBEBE', 'stroke-width': 5.2, 'stroke-dasharray': '20 19'}, g);
  
  
  const hz = mk('line', {x1: box.l, x2: box.r, y1: y(referenceLineValue), y2: y(referenceLineValue), stroke: '#000', 'stroke-width': 5.4, 'stroke-dasharray': '5.4 13.9'}, g);
  
  
  const vt = mk('line', {x1: x(referenceLineValue), x2: x(referenceLineValue), y1: 104, y2: box.b, stroke: '#000', 'stroke-width': 5.4, 'stroke-dasharray': '5.4 13.9'}, g);
  
  
})();

/* ---------- Panel 3 ---------- */
(function () {
  const box = {l: 174, r: 1270, t: 669, b: 986};
  const x = i => 379.5 + i * 342.5;
  const y = v => 971.4 - v * 2.877;
  const catX = v => x(v);
  drawGrid('p3-grid', box, catX, y, [0, 1, 2], [], pocidYTicks, pocidYMinor);
  catTickLabels('p3-ticks', pocidModels, x, 1037);
  yTickLabels('p3-ticks', pocidYTicks, y, 151.8);
  const g = byId('p3-marks');
  pocidValues.forEach((v, i) => {
    const bar = mk('rect', {x: x(i) - 154.9, y: y(v), width: 309.8, height: y(0) - y(v), fill: colorOf[pocidModels[i]], 'fill-opacity': 0.7}, g);
    
    
    const lab = mk('text', {x: x(i), y: y(v) - 19, 'text-anchor': 'middle', 'font-size': 49.2, fill: '#000'}, g);
    
    
    lab.textContent = pocidPrinted[i];
  });
})();

/* ---------- Panel 4 ---------- */
(function () {
  const box = {l: 1797, r: 2664, t: 669, b: 986};
  const x = t => 1836.3 + t * 0.1932;
  const y = v => 971.4 - v * 2.877;
  drawGrid('p4-grid', box, x, y, accXTicks, accXMinor, accYTicks, accYMinor);
  xTickLabels('p4-ticks', accXTicks, x, 1037);
  yTickLabels('p4-ticks', accYTicks, y, 1774);
  const g = byId('p4-marks');
  const thr = mk('line', {x1: box.l, x2: box.r, y1: y(accThreshold), y2: y(accThreshold), stroke: '#F0673F', 'stroke-opacity': 0.95, 'stroke-width': 5.2, 'stroke-dasharray': '20 19'}, g);
  
  
  const line = mk('polyline', {points: pts(accTime, accCumulative, x, y), fill: 'none', stroke: '#3953A4', 'stroke-width': 14, 'stroke-linejoin': 'round'}, g);
  
  
  instantHitTimes.forEach(t => {
    const el = mk('circle', {cx: x(t), cy: y(instantHitValue), r: 8.6, fill: ORANGE}, g);
    
    
  });
  instantMissTimes.forEach(t => {
    const el = mk('circle', {cx: x(t), cy: y(instantMissValue), r: 8.6, fill: ORANGE}, g);
    
    
  });
})();

/* ---------- Panel 5 ---------- */
(function () {
  const box = {l: 150, r: 1270, t: 1228, b: 1552};
  const x = i => 360 + i * 349.8;
  const y = v => 1537 - v * 8.567;
  drawGrid('p5-grid', box, x, y, [0, 1, 2], [], fitnessYTicks, fitnessYMinor);
  catTickLabels('p5-ticks', fitnessModels, x, 1602.9);
  yTickLabels('p5-ticks', fitnessYTicks, y, 128);
  const g = byId('p5-marks');
  fitnessValues.forEach((v, i) => {
    const bar = mk('rect', {x: x(i) - 157.5, y: y(v), width: 315, height: y(0) - y(v), fill: colorOf[fitnessModels[i]], 'fill-opacity': 0.7}, g);
    
    
    const lab = mk('text', {x: x(i), y: y(v) - 18.5, 'text-anchor': 'middle', 'font-size': 47.4, fill: '#000'}, g);
    
    
    lab.textContent = fitnessPrinted[i];
  });
})();

/* ---------- Panel 6 ---------- */
(function () {
  const box = {l: 1830.6, r: 2809, t: 1234.8, b: 1551};
  const x = v => 1944.4 + (v - 180) * 90.8;
  const y = v => 1238.7 + (71.75 - v) * 286;
  const size = f => 28 + 48 * Math.sqrt((f - 33.6) / 0.68);
  drawGrid('p6-grid', box, x, y, tradeXTicks.map(Number), tradeXMinor, tradeYTicks, tradeYMinor);
  const xt = byId('p6-ticks');
  tradeXTicks.forEach(v => {
    const el = mk('text', {class: 'tick', x: x(+v), y: 1603, 'text-anchor': 'middle'}, xt);
    
    
    el.textContent = v;
  });
  yTickLabels('p6-ticks', tradeYTicks, y, 1808);
  const g = byId('p6-marks');
  tradeRmse.forEach((r, i) => {
    const c = mk('circle', {cx: x(r), cy: y(tradePocid[i]), r: size(tradeFitness[i]), fill: colorOf[tradeModels[i]], 'fill-opacity': 0.7}, g);
    
    
  });
  tradeRmse.forEach((r, i) => {
    const t = mk('text', {x: x(r), y: y(tradePocid[i]) - 37.5, 'text-anchor': 'middle', 'font-size': 50.5, fill: tradeModels[i] === 'f1XG' ? ORANGE : (tradeModels[i] === 'f3PCR' ? RED : GREEN)}, g);
    
    
    t.textContent = tradeModels[i];
  });
  const lg = byId('p6-legend');
  let top = 1203;
  sizeLegendValues.forEach(v => {
    const r = size(v);
    const c = mk('circle', {cx: 2976, cy: top + r, r: r, fill: '#404040'}, lg);
    
    
    const t = mk('text', {class: 'ltext', x: 3095, y: top + r + 14}, lg);
    
    
    t.textContent = v.toFixed(1);
    top += 2 * r + 30;
  });
})();

/* ---------- Panel 7 ---------- */
(function () {
  const box = {l: 150, r: 1270, t: 1801, b: 2118};
  const x = w => 415.4 + (w - 0.005) * 53540;
  const y = v => 2072 - (v - 20) * 6.36;
  drawGrid('p7-grid', box, x, y, sensXTicks.map(Number), sensXMinor, sensYTicks, sensYMinor);
  const xt = byId('p7-ticks');
  sensXTicks.forEach(v => {
    const el = mk('text', {class: 'tick', x: x(+v), y: 2168.6, 'text-anchor': 'middle'}, xt);
    
    
    el.textContent = v;
  });
  yTickLabels('p7-ticks', sensYTicks, y, 128);
  const g = byId('p7-marks');
  const l1 = mk('polyline', {points: pts(weightValues, sensF1XG, x, y), fill: 'none', stroke: ORANGE, 'stroke-width': 12.5, 'stroke-linejoin': 'round'}, g);
  
  
  const l2 = mk('polyline', {points: pts(weightValues, sensF3PCR, x, y), fill: 'none', stroke: RED, 'stroke-width': 12.5, 'stroke-linejoin': 'round'}, g);
  
  
  const l3 = mk('polyline', {points: pts(weightValues, sensFplaqr, x, y), fill: 'none', stroke: GREEN, 'stroke-width': 12.5, 'stroke-linejoin': 'round'}, g);
  
  
  const vl = mk('line', {x1: x(sensWeightMarker), x2: x(sensWeightMarker), y1: box.t, y2: box.b, stroke: '#F0673F', 'stroke-opacity': 0.95, 'stroke-width': 5.2, 'stroke-dasharray': '21 18', 'stroke-dashoffset': 14}, g);
  
  
})();
</script>
</body>
</html>
